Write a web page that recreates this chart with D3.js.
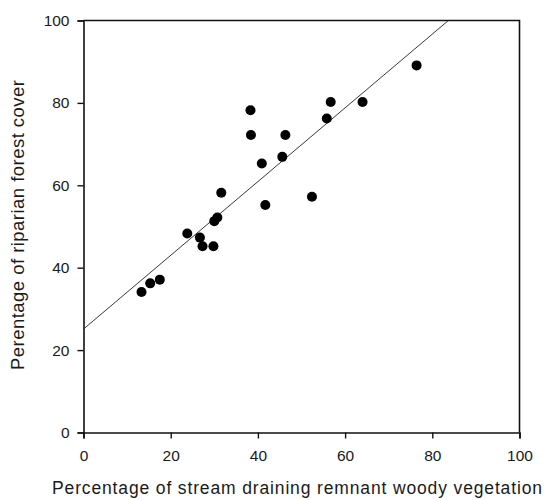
<!DOCTYPE html>
<html>
<head>
<meta charset="utf-8">
<script src="https://cdn.jsdelivr.net/npm/d3@7"></script>
<style>
  html, body { margin: 0; padding: 0; background: #fff; }
  svg { display: block; }
  text { font-family: "Liberation Sans", Arial, sans-serif; fill: #1a1a1a; }
</style>
</head>
<body>
<svg id="chart" width="551" height="500"></svg>
<script>
// Percentage of stream draining remnant woody vegetation (x)
const woodyPct = [13.3, 15.3, 17.5, 23.8, 26.7, 27.3, 29.8, 30.0, 30.7, 31.6,
                  38.3, 38.4, 40.9, 41.7, 45.6, 46.3, 52.4, 55.8, 56.7, 64.0, 76.4];
// Percentage of riparian forest cover (y)
const forestPct = [34.1, 36.2, 37.1, 48.3, 47.3, 45.2, 45.2, 51.3, 52.2, 58.2,
                   78.2, 72.2, 65.3, 55.2, 66.9, 72.2, 57.2, 76.2, 80.2, 80.2, 89.1];
// Fitted regression line: y = intercept + slope * x
const fitIntercept = 25.1;
const fitSlope = 0.895;
const xTicks = [0, 20, 40, 60, 80, 100];
const yTicks = [0, 20, 40, 60, 80, 100];
const xTitle = "Percentage of stream draining remnant woody vegetation";
const yTitle = "Perentage of riparian forest cover";

const svg = d3.select("#chart");
const plotL = 83.5, plotR = 519.5, plotT = 20.5, plotB = 432.5;

const x = d3.scaleLinear().domain([0, 100]).range([plotL, plotR]);
const y = d3.scaleLinear().domain([0, 100]).range([plotB, plotT]);

// Frame (top and right edges)
svg.append("path")
  .attr("d", `M${plotL},${plotT}H${plotR}V${plotB}`)
  .attr("fill", "none").attr("stroke", "#111").attr("stroke-width", 1.6);

// Bottom axis
const gx = svg.append("g").attr("transform", `translate(0,${plotB})`)
  .call(d3.axisBottom(x).tickValues(xTicks).tickSize(6).tickPadding(11).tickFormat(d3.format("d")));
// Left axis
const gy = svg.append("g").attr("transform", `translate(${plotL},0)`)
  .call(d3.axisLeft(y).tickValues(yTicks).tickSize(6).tickPadding(8).tickFormat(d3.format("d")));

[gx, gy].forEach(g => {
  g.select(".domain").attr("stroke", "#111").attr("stroke-width", 1.6);
  g.selectAll(".tick line").attr("stroke", "#111").attr("stroke-width", 1.4);
  g.selectAll(".tick text").style("font-size", "15.5px")
    .style("font-family", "'Liberation Sans', Arial, sans-serif").attr("fill", "#1a1a1a");
});

// Regression line, clipped to the plotting frame
const xEnd = Math.min(100, (100 - fitIntercept) / fitSlope);
svg.append("line")
  .attr("x1", x(0)).attr("y1", y(fitIntercept))
  .attr("x2", x(xEnd)).attr("y2", y(fitIntercept + fitSlope * xEnd))
  .attr("stroke", "#222").attr("stroke-width", 0.9);

// Observations
const points = woodyPct.map((v, i) => ({ x: v, y: forestPct[i] }));
svg.append("g").selectAll("circle").data(points).join("circle")
  .attr("cx", d => x(d.x)).attr("cy", d => y(d.y))
  .attr("r", 5).attr("fill", "#000");

// Axis titles
svg.append("text")
  .attr("x", 52).attr("y", 494)
  .attr("textLength", 490).attr("lengthAdjust", "spacing")
  .style("font-size", "17.5px")
  .text(xTitle);

svg.append("text")
  .attr("transform", "translate(24,370) rotate(-90)")
  .attr("textLength", 290).attr("lengthAdjust", "spacing")
  .style("font-size", "18.5px")
  .text(yTitle);
</script>
</body>
</html>
